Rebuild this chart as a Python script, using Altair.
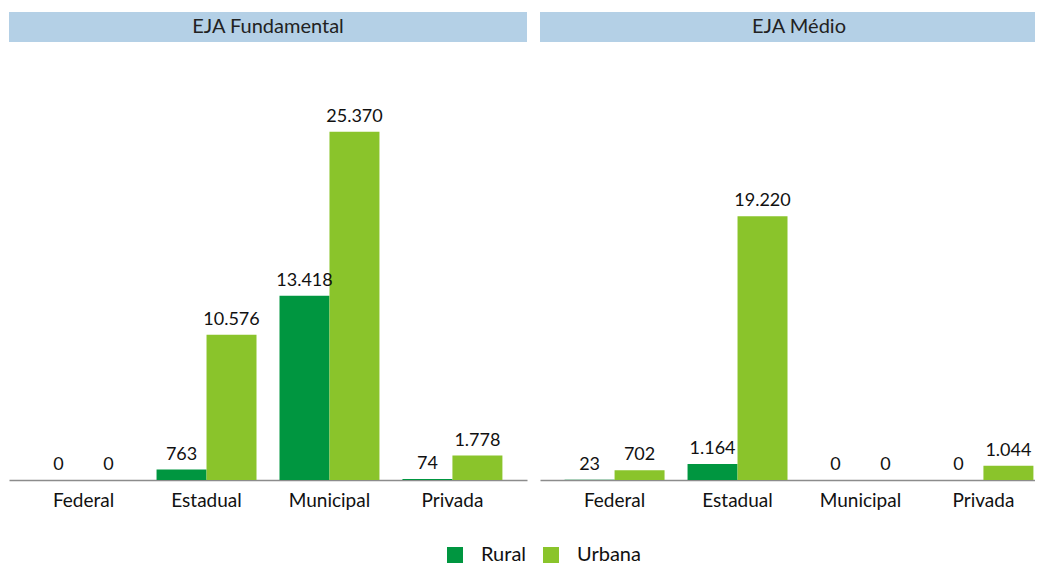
import altair as alt
import pandas as pd

deps = ["Federal", "Estadual", "Municipal", "Privada"]
locs = ["Rural", "Urbana"]
panels = ["EJA Fundamental", "EJA Médio"]
rural_fund = [0, 763, 13418, 74]
urbana_fund = [0, 10576, 25370, 1778]
rural_medio = [23, 1164, 0, 0]
urbana_medio = [702, 19220, 0, 1044]

rows = []
for p, rv, uv in [(panels[0], rural_fund, urbana_fund), (panels[1], rural_medio, urbana_medio)]:
    for d, r, u in zip(deps, rv, uv):
        rows.append({"nivel": p, "dep": d, "loc": "Rural", "value": r})
        rows.append({"nivel": p, "dep": d, "loc": "Urbana", "value": u})
df = pd.DataFrame(rows)

FONT = "Lato"
H = 468
DARK = "#009640"
LIGHT = "#8ac42b"
HEAD = "#b4d0e6"


def panel(title, W, show_legend):
    data = df[df["nivel"] == title]
    base = alt.Chart(data).encode(
        x=alt.X("dep:N", sort=deps,
                scale=alt.Scale(paddingInner=0.187, paddingOuter=0.2),
                axis=alt.Axis(title=None, labelAngle=0, ticks=False,
                              labelFontSize=19, labelFont=FONT, labelColor="#111",
                              labelPadding=11, domainColor="#8c8c8c", domainWidth=1.5)),
        xOffset=alt.XOffset("loc:N", sort=locs),
        y=alt.Y("value:Q", scale=alt.Scale(domain=[0, 34100], nice=False), axis=None),
    )
    legend = alt.Legend(title=None, orient="none", direction="horizontal",
                        legendX=436, legendY=533, symbolType="square",
                        symbolSize=256, symbolStrokeWidth=0,
                        labelFontSize=20, labelFont=FONT, labelColor="#111",
                        labelOffset=16, columnPadding=14) if show_legend else None
    bars = base.mark_bar().encode(
        color=alt.Color("loc:N", sort=locs,
                        scale=alt.Scale(domain=locs, range=[DARK, LIGHT]),
                        legend=legend)
    )
    labels = base.mark_text(baseline="bottom", dy=-6, fontSize=18, font=FONT,
                            color="#111").encode(
        text=alt.Text("value:Q", format=",d")
    )
    hd = pd.DataFrame({"nivel": [title]})
    head_rect = alt.Chart(hd).mark_rect(color=HEAD).encode(
        x=alt.value(0), x2=alt.value(W), y=alt.value(0), y2=alt.value(30)
    )
    head_text = alt.Chart(hd).mark_text(fontSize=20, font=FONT, color="#222",
                                        baseline="middle", align="center").encode(
        x=alt.value(259), y=alt.value(15), text="nivel:N"
    )
    return alt.layer(head_rect, head_text, bars, labels).properties(width=W, height=H)


chart = alt.hconcat(
    panel(panels[0], 518, True),
    panel(panels[1], 518, False),
    spacing=13,
).properties(
    padding={"left": 1, "top": 4, "right": -23, "bottom": 0}
).configure(
    locale={"number": {"decimal": ",", "thousands": ".", "grouping": [3], "currency": ["R$", ""]}},
    view=alt.ViewConfig(stroke=None),
)

chart.save("out.html", embed_options={"renderer": "svg", "actions": False})
